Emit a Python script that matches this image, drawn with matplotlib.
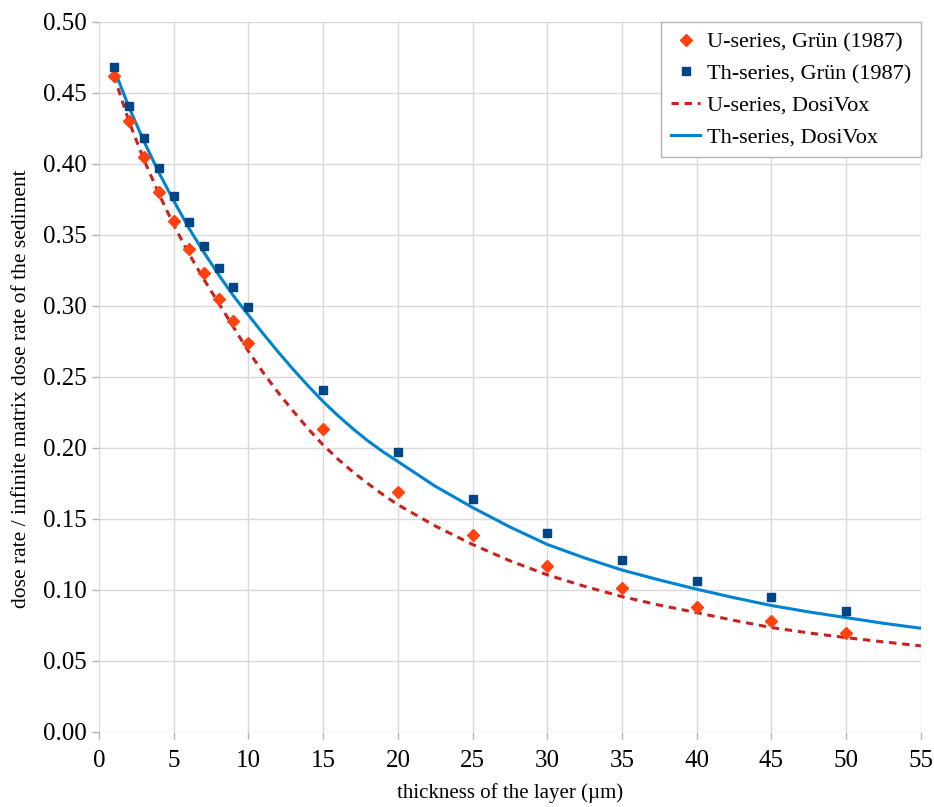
import matplotlib.pyplot as plt
import numpy as np

# thickness of the layer (um) for the Grun (1987) values
x_grun = [1, 2, 3, 4, 5, 6, 7, 8, 9, 10, 15, 20, 25, 30, 35, 40, 45, 50]
u_grun = [0.462, 0.430, 0.405, 0.380, 0.360, 0.340, 0.323, 0.305, 0.289, 0.274,
          0.213, 0.169, 0.139, 0.117, 0.101, 0.088, 0.078, 0.070]
th_grun = [0.468, 0.441, 0.418, 0.397, 0.377, 0.359, 0.342, 0.327, 0.313, 0.299,
           0.241, 0.197, 0.164, 0.140, 0.121, 0.106, 0.095, 0.085]

# DosiVox curves
x_dosi = [1, 2, 3, 4, 5, 6, 7, 8, 9, 10, 11, 12, 13, 14, 15, 16, 17, 18, 19, 20,
          22.5, 25, 27.5, 30, 32.5, 35, 37.5, 40, 42.5, 45, 47.5, 50, 52.5, 55]
u_dosi = [0.462, 0.430, 0.403, 0.379, 0.357, 0.337, 0.319, 0.302, 0.285, 0.268,
          0.2528, 0.2388, 0.2258, 0.2134, 0.202, 0.192, 0.183, 0.1748, 0.1671, 0.160,
          0.145, 0.132, 0.1205, 0.1106, 0.1025, 0.0953, 0.0893, 0.084,
          0.0785, 0.0735, 0.0697, 0.0664, 0.0634, 0.0606]
th_dosi = [0.467, 0.440, 0.416, 0.394, 0.374, 0.355, 0.338, 0.322, 0.307, 0.2935,
           0.2802, 0.2674, 0.2552, 0.2436, 0.2326, 0.2226, 0.2134, 0.2049, 0.1973, 0.1904,
           0.173, 0.158, 0.1443, 0.132, 0.1225, 0.114, 0.107, 0.1005,
           0.0945, 0.089, 0.0845, 0.0805, 0.0765, 0.073]

plt.rcParams['font.family'] = ['Liberation Serif', 'DejaVu Serif']

fig = plt.figure(figsize=(9.34, 8.07), dpi=100)
ax = fig.add_axes([0.106, 0.093, 0.880, 0.880])

ax.plot(x_grun, u_grun, linestyle="none", marker="D", markersize=6,
        color="#ff420e", label="U-series, Grün (1987)", zorder=4)
ax.plot(x_grun, th_grun, linestyle="none", marker="s", markersize=5.5,
        color="#004586", label="Th-series, Grün (1987)", zorder=4)
ax.plot(x_dosi, u_dosi, color="#c9211e", linewidth=2.2, dashes=(2.4, 1.9),
        label="U-series, DosiVox", zorder=3)
ax.plot(x_dosi, th_dosi, color="#0084d1", linewidth=2.2,
        label="Th-series, DosiVox", zorder=3)

ax.set_xlim(0, 55)
ax.set_ylim(0, 0.5)
ax.set_xticks(np.arange(0, 56, 5))
ax.set_yticks(np.arange(0, 0.501, 0.05))
ax.set_yticklabels([f"{v:.2f}" for v in np.arange(0, 0.501, 0.05)])
ax.grid(True, color="#d9d9d9", linewidth=1)
ax.set_axisbelow(True)
for s in ax.spines.values():
    s.set_visible(False)
ax.tick_params(axis="both", labelsize=18, color="#b3b3b3", length=5, width=1)
ax.tick_params(axis="x", pad=8)

ax.set_xlabel("thickness of the layer (µm)", fontsize=15, labelpad=8)
ax.set_ylabel("dose rate / infinite matrix dose rate of the sediment", fontsize=15.5)
ax.yaxis.set_label_coords(-0.083, 0.483)

leg = ax.legend(loc="upper right", fontsize=16, frameon=True, fancybox=False,
                framealpha=1, edgecolor="#b3b3b3", borderaxespad=0,
                handlelength=1.3, handletextpad=0.3, labelspacing=0.5,
                borderpad=0.45)
leg.get_frame().set_linewidth(1)

fig.savefig("out.png", dpi=100)
